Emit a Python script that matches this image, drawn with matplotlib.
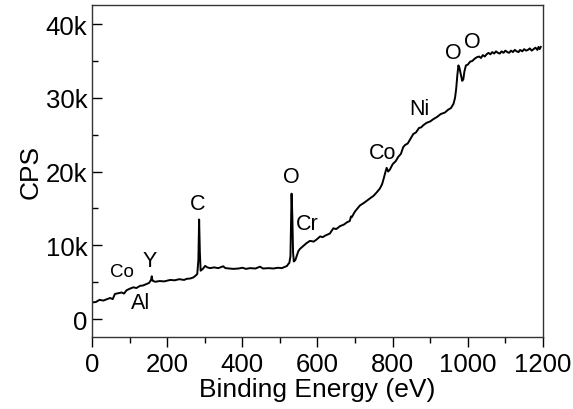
import numpy as np
import matplotlib
matplotlib.use('Agg')
import matplotlib.pyplot as plt
from matplotlib.ticker import MultipleLocator, FuncFormatter

plt.rcParams['font.family'] = ['Liberation Sans', 'DejaVu Sans']

# XPS survey spectrum (binding energy in eV, counts in kCPS)
be = [0, 10, 20, 30, 40, 48, 55, 61, 70, 79, 85, 92, 100, 110, 118, 128, 136, 145,
      152, 157, 159, 161, 168, 180, 192, 208, 220, 232, 245, 252, 262, 270, 276, 280,
      283, 285, 287, 289, 295, 301, 307, 314, 325, 336, 349, 355, 365, 376, 390, 400,
      410, 420, 435, 447, 455, 470, 482, 495, 505, 514, 519, 522, 525, 528, 531, 533,
      535, 537, 541, 545, 549, 553, 562, 571, 580, 590, 598, 607, 614, 620, 633, 642,
      650, 660, 670, 678, 686, 689, 691, 700, 713, 725, 738, 749, 758, 766, 772, 777,
      780, 784, 788, 793, 800, 808, 815, 822, 828, 833, 840, 848, 855, 862, 870, 876,
      882, 890, 900, 908, 918, 928, 939, 948, 955, 962, 966, 969, 972, 975, 978, 982,
      985, 988, 991, 995, 1000, 1006, 1012, 1018, 1024, 1030, 1035, 1040, 1045, 1050,
      1055, 1060, 1065, 1070, 1075, 1080, 1085, 1090, 1095, 1100, 1105, 1110, 1115,
      1120, 1125, 1130, 1135, 1139, 1145, 1150, 1155, 1160, 1165, 1170, 1175, 1180,
      1185, 1188, 1191, 1194]
cps = [2.25, 2.3, 2.6, 2.5, 2.7, 2.85, 2.7, 3.4, 3.5, 3.6, 3.45, 3.9, 4.1, 4.3, 4.2, 4.5,
       4.55, 4.75, 4.9, 5.3, 5.8, 5.2, 5.05, 5.15, 5.1, 5.3, 5.25, 5.4, 5.3, 5.45, 5.5,
       5.65, 5.9, 6.1, 8.0, 13.5, 9.0, 6.55, 6.8, 7.2, 7.0, 6.9, 7.0, 6.9, 7.15, 6.9,
       6.85, 6.8, 6.85, 6.95, 6.8, 6.9, 6.85, 7.1, 6.85, 6.9, 6.85, 6.95, 6.9, 7.1, 7.2,
       7.45, 7.6, 8.5, 17.0, 14.0, 9.0, 7.8, 8.0, 8.6, 9.2, 9.5, 9.9, 10.3, 10.6, 10.5,
       10.8, 11.2, 11.1, 11.3, 11.6, 12.3, 12.2, 12.6, 12.8, 13.1, 13.3, 13.9, 13.8, 14.6,
       15.4, 15.8, 16.3, 16.7, 17.2, 17.7, 18.3, 19.2, 19.8, 20.5, 20.0, 20.3, 21.0, 21.4,
       22.0, 22.4, 23.3, 23.6, 23.8, 24.5, 25.1, 25.3, 25.9, 26.0, 26.3, 26.6, 26.8, 27.1,
       27.4, 27.8, 28.0, 28.4, 28.6, 29.2, 30.0, 31.2, 33.0, 34.4, 34.0, 33.0, 32.3, 32.5,
       33.6, 34.4, 34.5, 34.9, 35.0, 35.3, 35.5, 35.6, 35.4, 35.8, 35.6, 35.9, 36.1, 35.9,
       36.2, 36.0, 36.3, 36.1, 36.0, 36.3, 36.1, 36.4, 36.2, 36.1, 36.4, 36.2, 36.5, 36.3,
       36.2, 36.5, 36.3, 36.6, 36.4, 36.5, 36.7, 36.4, 36.6, 36.8, 36.5, 36.9, 36.6, 36.9]

# peak labels: text, x (eV), y (kCPS), font size
lbl_txt = ['Co', 'Y', 'Al', 'C', 'O', 'Cr', 'Co', 'Ni', 'O', 'O']
lbl_x = [80, 154, 128, 282, 529, 574, 774, 870, 961, 1011]
lbl_y = [6.5, 7.9, 2.2, 15.6, 19.3, 12.9, 22.6, 28.5, 36.1, 37.6]
lbl_fs = [13.5, 15.5, 15.5, 15.5, 15.5, 15.5, 15.5, 15.5, 15.5, 15.5]

fig = plt.figure(figsize=(5.73, 4.10), dpi=100)
ax = fig.add_axes([0.1606, 0.1756, 0.787, 0.810])

ax.plot(be, np.array(cps) * 1000, color='black', linewidth=1.4)

for t, x, y, fs in zip(lbl_txt, lbl_x, lbl_y, lbl_fs):
    ax.text(x, y * 1000, t, fontsize=fs, ha='center', va='center')

ax.set_xlim(0, 1200)
ax.set_ylim(-2440, 42600)
ax.xaxis.set_major_locator(MultipleLocator(200))
ax.xaxis.set_minor_locator(MultipleLocator(100))
ax.yaxis.set_major_locator(MultipleLocator(10000))
ax.yaxis.set_minor_locator(MultipleLocator(5000))
ax.yaxis.set_major_formatter(FuncFormatter(lambda v, p: '0' if v == 0 else '%dk' % (v / 1000)))

ax.tick_params(axis='x', which='major', direction='out', length=7, width=1, labelsize=18.5)
ax.tick_params(axis='x', which='minor', direction='out', length=4, width=1)
ax.tick_params(axis='y', which='major', direction='in', length=7, width=1, labelsize=18.5)
ax.tick_params(axis='y', which='minor', direction='in', length=4, width=1)
for s in ax.spines.values():
    s.set_linewidth(1.0)
    s.set_color('#333333')

ax.set_xlabel('Binding Energy (eV)', fontsize=19, labelpad=1)
ax.set_ylabel('CPS', fontsize=19, labelpad=2)

fig.savefig('out.png', dpi=100)
